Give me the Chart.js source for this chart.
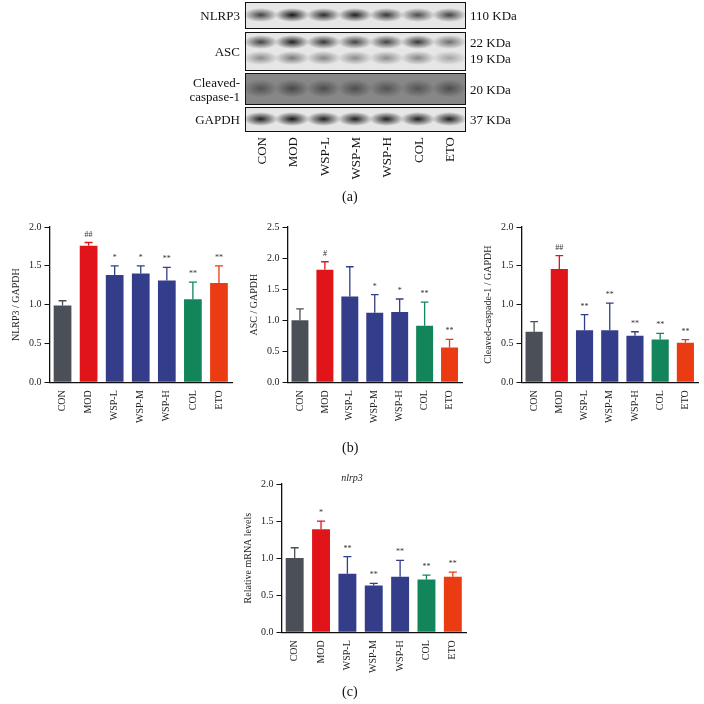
<!DOCTYPE html>
<html><head><meta charset="utf-8">
<script src="https://cdn.jsdelivr.net/npm/chart.js@4"></script>
<style>
body{margin:0;width:704px;height:704px;background:#fff;position:relative;font-family:"Liberation Serif",serif;overflow:hidden}
.c{position:absolute}
.lbl{position:absolute;font-size:14px;color:#111}
</style></head><body>
<canvas id="blot" class="c" style="left:0;top:0" width="704" height="200"></canvas>
<div class="lbl" style="left:342px;top:189px">(a)</div>
<div class="lbl" style="left:342px;top:440px">(b)</div>
<div class="lbl" style="left:342px;top:684px">(c)</div>
<div class="c" style="left:6px;top:218px;width:230px;height:208px"><canvas id="c1"></canvas></div>
<div class="c" style="left:244px;top:218px;width:222px;height:208px"><canvas id="c2"></canvas></div>
<div class="c" style="left:478px;top:218px;width:224px;height:208px"><canvas id="c3"></canvas></div>
<div class="c" style="left:238px;top:466px;width:232px;height:210px"><canvas id="c4"></canvas></div>
<script>
const categories=["CON","MOD","WSP-L","WSP-M","WSP-H","COL","ETO"];
const colors=["#4b4f57","#e1141a","#333d8a","#333d8a","#333d8a","#12855a","#ea3b12"];
const nlrp3Mean=[0.99,1.76,1.38,1.40,1.31,1.07,1.28];
const nlrp3Err=[0.06,0.04,0.12,0.10,0.17,0.22,0.22];
const nlrp3Sig=["","##","*","*","**","**","**"];
const ascMean=[1.00,1.81,1.38,1.12,1.13,0.91,0.56];
const ascErr=[0.18,0.13,0.48,0.29,0.21,0.38,0.13];
const ascSig=["","#","","*","*","**","**"];
const casMean=[0.65,1.46,0.67,0.67,0.60,0.55,0.51];
const casErr=[0.13,0.17,0.20,0.35,0.05,0.08,0.04];
const casSig=["","##","**","**","**","**","**"];
const mrnaMean=[1.00,1.39,0.79,0.63,0.75,0.71,0.75];
const mrnaErr=[0.14,0.11,0.23,0.03,0.22,0.06,0.06];
const mrnaSig=["","*","**","**","**","**","**"];
const blotRows=["NLRP3","ASC","Cleaved-\ncaspase-1","GAPDH"];
const blotKda=[["110 KDa"],["22 KDa","19 KDa"],["20 KDa"],["37 KDa"]];
const blotIntensity=[[0.75,0.95,0.85,0.9,0.8,0.7,0.75],[0.75,0.9,0.8,0.75,0.75,0.8,0.55],[0.45,0.55,0.5,0.5,0.45,0.45,0.5],[0.9,0.95,0.9,0.9,0.9,0.9,0.9]];

(function(){
 const cv=document.getElementById('blot'),g=cv.getContext('2d');
 const boxes=[[2,28],[32,70],[73,104],[107,131]];
 const x0=245,x1=465,lw=(x1-x0)/7;
 g.font='13px "Liberation Serif"';g.fillStyle='#111';
 boxes.forEach((b,r)=>{
  const [t,bt]=b;
  g.fillStyle=r==2?'#bbb':'#e6e6e6';g.fillRect(x0,t,x1-x0,bt-t);
  const bands=r==1?[t+10,t+26]:[(t+bt)/2];
  bands.forEach((cy,bi)=>{
   for(let i=0;i<7;i++){
     const v=blotIntensity[r][i]*(bi==1?0.55:1);
     const grd=g.createRadialGradient(0,0,0,0,0,1);
     grd.addColorStop(0,`rgba(10,10,10,${v})`);grd.addColorStop(1,'rgba(10,10,10,0)');
     g.save();g.translate(x0+lw*(i+0.5),cy);g.scale(lw*0.55,(r==2?9:7));
     g.fillStyle=grd;g.beginPath();g.arc(0,0,1,0,7);g.fill();g.restore();
   }
  });
  if(r==2){g.fillStyle='rgba(40,40,40,0.35)';g.fillRect(x0,t,x1-x0,bt-t);}
  g.strokeStyle='#111';g.lineWidth=1;g.strokeRect(x0+.5,t+.5,x1-x0,bt-t);
  g.fillStyle='#111';g.textAlign='right';
  const lines=blotRows[r].split('\n');
  lines.forEach((s,k)=>g.fillText(s,240,(t+bt)/2+5+(k-(lines.length-1)/2)*14));
  g.textAlign='left';
  blotKda[r].forEach((s,k)=>g.fillText(s,470,(blotKda[r].length>1?bands[k]:(t+bt)/2)+5));
 });
 g.textAlign='right';
 categories.forEach((c,i)=>{g.save();g.translate(x0+lw*(i+0.5)+5,137);g.rotate(-Math.PI/2);g.fillText(c,0,0);g.restore();});
})();

const errPlugin={id:'err',afterDatasetsDraw(ch){
 const g=ch.ctx,m=ch.getDatasetMeta(0),ys=ch.scales.y;
 const d=ch.data.datasets[0];
 m.data.forEach((bar,i)=>{
  const top=ys.getPixelForValue(d.data[i]+d.err[i]);
  const w=bar.width*0.45;
  g.save();g.strokeStyle=colors[i];g.lineWidth=1.3;
  g.beginPath();g.moveTo(bar.x,bar.y);g.lineTo(bar.x,top);g.moveTo(bar.x-w/2,top);g.lineTo(bar.x+w/2,top);g.stroke();
  g.fillStyle='#333';g.font='8px "Liberation Serif"';g.textAlign='center';
  g.fillText(d.sig[i],bar.x,top-6);g.restore();
 });
}};
function make(id,mean,err,sig,max,step,ytitle,title){
 new Chart(document.getElementById(id),{type:'bar',
 data:{labels:categories,datasets:[{data:mean,err:err,sig:sig,backgroundColor:colors,barPercentage:0.68,categoryPercentage:1}]},
 options:{animation:false,responsive:true,maintainAspectRatio:false,
  layout:{padding:{top:6,right:4}},
  plugins:{legend:{display:false},tooltip:{enabled:false},
   title:{display:!!title,text:title,font:{family:'Liberation Serif',size:10,style:'italic',weight:'normal'},color:'#222',padding:{top:0,bottom:0}}},
  scales:{
   x:{grid:{display:false,drawOnChartArea:false,tickLength:5},border:{color:'#111',width:1.3},
      ticks:{maxRotation:90,minRotation:90,color:'#222',font:{family:'Liberation Serif',size:10}}},
   y:{min:0,max:max,grid:{display:true,drawOnChartArea:false,tickLength:5,color:'#111'},border:{color:'#111',width:1.3},
      title:{display:true,text:ytitle,color:'#222',font:{family:'Liberation Serif',size:10}},
      ticks:{stepSize:step,color:'#222',font:{family:'Liberation Serif',size:10},callback:v=>v.toFixed(1)}}}},
 plugins:[errPlugin]});
}
make('c1',nlrp3Mean,nlrp3Err,nlrp3Sig,2.0,0.5,'NLRP3 / GAPDH');
make('c2',ascMean,ascErr,ascSig,2.5,0.5,'ASC / GAPDH');
make('c3',casMean,casErr,casSig,2.0,0.5,'Cleaved-caspade-1 / GAPDH');
make('c4',mrnaMean,mrnaErr,mrnaSig,2.0,0.5,'Relative mRNA levels','nlrp3');
</script></body></html>
